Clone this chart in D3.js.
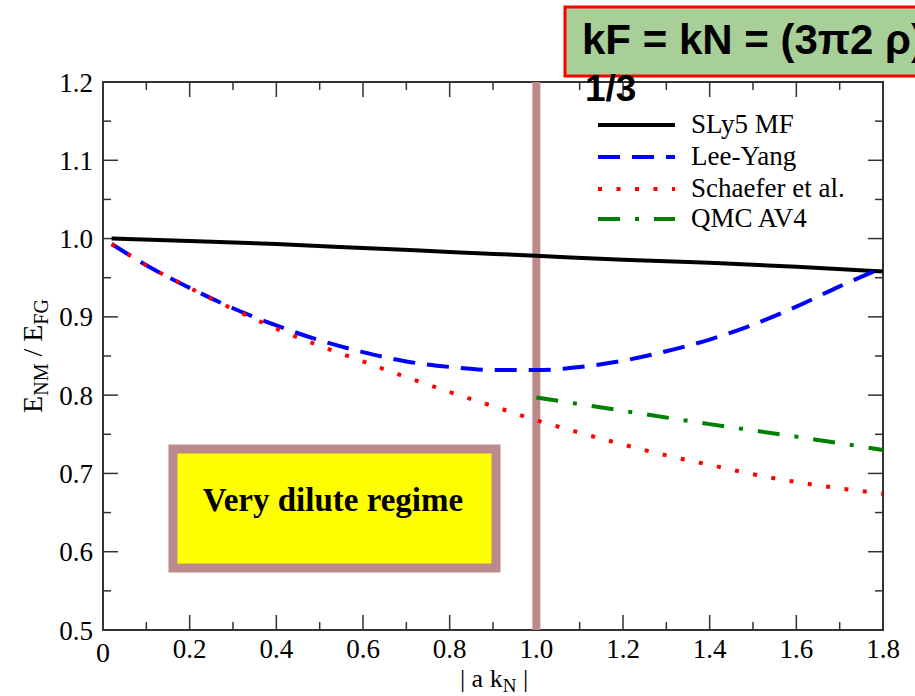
<!DOCTYPE html>
<html>
<head>
<meta charset="utf-8">
<script src="https://cdn.jsdelivr.net/npm/d3@7"></script>
<style>
  body { margin: 0; background: #fff; }
  svg { display: block; }
</style>
</head>
<body>
<div id="chart"></div>
<script>
// values
const slyX = [0.02, 0.2, 0.4, 0.6, 0.8, 1.0, 1.2, 1.4, 1.6, 1.8];
const slyY = [1.0, 0.997, 0.993, 0.988, 0.983, 0.978, 0.973, 0.969, 0.964, 0.958];

const lyX = [0.02, 0.1, 0.2, 0.3, 0.4, 0.5, 0.6, 0.7, 0.8, 0.9, 1.0, 1.1, 1.2, 1.3, 1.4, 1.5, 1.6, 1.7, 1.8];
const lyY = [0.993, 0.966, 0.937, 0.911, 0.889, 0.870, 0.855, 0.843, 0.836, 0.832, 0.832, 0.836, 0.844, 0.856, 0.871, 0.890, 0.913, 0.939, 0.963];

const schX = [0.02, 0.1, 0.2, 0.3, 0.4, 0.5, 0.6, 0.7, 0.8, 0.9, 1.0, 1.1, 1.2, 1.3, 1.4, 1.5, 1.6, 1.7, 1.8];
const schY = [0.993, 0.966, 0.937, 0.910, 0.885, 0.863, 0.843, 0.823, 0.804, 0.786, 0.768, 0.752, 0.737, 0.723, 0.711, 0.699, 0.689, 0.681, 0.674];

const qmcX = [1.0, 1.2, 1.4, 1.6, 1.8];
const qmcY = [0.797, 0.780, 0.763, 0.747, 0.730];

const xTicks = [0, 0.2, 0.4, 0.6, 0.8, 1.0, 1.2, 1.4, 1.6, 1.8];
const xTickLabels = ['0', '0.2', '0.4', '0.6', '0.8', '1.0', '1.2', '1.4', '1.6', '1.8'];
const yTicks = [0.5, 0.6, 0.7, 0.8, 0.9, 1.0, 1.1, 1.2];
const yTickLabels = ['0.5', '0.6', '0.7', '0.8', '0.9', '1.0', '1.1', '1.2'];

const seriesNames = ['SLy5 MF', 'Lee-Yang', 'Schaefer et al.', 'QMC AV4'];

const W = 915, H = 696;
const margin = { left: 103, right: 32, top: 82, bottom: 66 };

const svg = d3.select('#chart').append('svg')
    .attr('width', W)
    .attr('height', H);

const x = d3.scaleLinear().domain([0, 1.8]).range([margin.left, W - margin.right]);
const y = d3.scaleLinear().domain([0.5, 1.2]).range([H - margin.bottom, margin.top]);

const serif = '"Liberation Serif", "Times New Roman", serif';
const sans = '"Liberation Sans", Arial, sans-serif';
const axisColor = '#333';

// ticks on all four sides, pointing inward
const minorX = d3.range(0, 1.81, 0.1);
const minorY = d3.range(0.5, 1.201, 0.05);
const ticks = svg.append('g').attr('stroke', axisColor).attr('stroke-width', 1.5);
minorX.forEach((v, i) => {
    const len = i % 2 === 0 ? 15 : 8;
    ticks.append('line').attr('x1', x(v)).attr('x2', x(v)).attr('y1', y(0.5)).attr('y2', y(0.5) - len);
    ticks.append('line').attr('x1', x(v)).attr('x2', x(v)).attr('y1', y(1.2)).attr('y2', y(1.2) + len);
});
minorY.forEach((v, i) => {
    const len = i % 2 === 0 ? 15 : 8;
    ticks.append('line').attr('x1', x(0)).attr('x2', x(0) + len).attr('y1', y(v)).attr('y2', y(v));
    ticks.append('line').attr('x1', x(1.8)).attr('x2', x(1.8) - len).attr('y1', y(v)).attr('y2', y(v));
});

// frame
svg.append('rect')
    .attr('x', x(0)).attr('y', y(1.2))
    .attr('width', x(1.8) - x(0)).attr('height', y(0.5) - y(1.2))
    .attr('fill', 'none').attr('stroke', axisColor).attr('stroke-width', 2);

// tick labels
svg.append('g').selectAll('text')
    .data(xTicks)
    .join('text')
    .attr('x', d => x(d))
    .attr('y', (d, i) => i === 0 ? 662 : 658)
    .attr('text-anchor', 'middle')
    .attr('font-family', serif)
    .attr('font-size', (d, i) => i === 0 ? 28 : 27)
    .text((d, i) => xTickLabels[i]);

svg.append('g').selectAll('text')
    .data(yTicks)
    .join('text')
    .attr('x', x(0) - 10)
    .attr('y', d => y(d) + 9.5)
    .attr('text-anchor', 'end')
    .attr('font-family', serif)
    .attr('font-size', 27)
    .text((d, i) => yTickLabels[i]);

// axis titles
const xt = svg.append('text')
    .attr('x', 494).attr('y', 687)
    .attr('text-anchor', 'middle')
    .attr('font-family', serif)
    .attr('font-size', 26);
xt.append('tspan').text('| a k');
xt.append('tspan').attr('font-size', 19).attr('dy', 5).text('N');
xt.append('tspan').attr('dy', -5).text(' |');

const yt = svg.append('text')
    .attr('transform', 'translate(42,356) rotate(-90)')
    .attr('text-anchor', 'middle')
    .attr('font-family', serif)
    .attr('font-size', 28);
yt.append('tspan').text('E');
yt.append('tspan').attr('font-size', 20).attr('dy', 6).text('NM');
yt.append('tspan').attr('dy', -6).text(' / E');
yt.append('tspan').attr('font-size', 20).attr('dy', 6).text('FG');

// "very dilute" box
svg.append('rect')
    .attr('x', 173).attr('y', 449)
    .attr('width', 323).attr('height', 119)
    .attr('fill', '#ffff00')
    .attr('stroke', '#bc8a8a').attr('stroke-width', 9);
svg.append('text')
    .attr('x', 333).attr('y', 511)
    .attr('text-anchor', 'middle')
    .attr('font-family', serif)
    .attr('font-weight', 'bold')
    .attr('font-size', 33)
    .text('Very dilute regime');

// vertical marker at |a kN| = 1
svg.append('line')
    .attr('x1', x(1.0)).attr('x2', x(1.0))
    .attr('y1', y(1.2)).attr('y2', y(0.5))
    .attr('stroke', '#bc8a8a').attr('stroke-width', 8);

// curves
const line = d3.line().x(d => x(d[0])).y(d => y(d[1])).curve(d3.curveMonotoneX);
const zip = (a, b) => a.map((v, i) => [v, b[i]]);

const styles = [
    { color: '#000', dash: null },
    { color: '#0000ff', dash: '22,12' },
    { color: '#ff0000', dash: '4,14.5' },
    { color: '#008000', dash: '22,15,4,15' }
];
const curves = [zip(slyX, slyY), zip(lyX, lyY), zip(schX, schY), zip(qmcX, qmcY)];

curves.forEach((c, i) => {
    svg.append('path')
        .attr('d', line(c))
        .attr('fill', 'none')
        .attr('stroke', styles[i].color)
        .attr('stroke-width', 4)
        .attr('stroke-dasharray', styles[i].dash);
});

// legend
const legend = svg.append('g');
const legY = [125, 157, 189, 219];
seriesNames.forEach((name, i) => {
    legend.append('line')
        .attr('x1', 598).attr('x2', 675)
        .attr('y1', legY[i]).attr('y2', legY[i])
        .attr('stroke', styles[i].color)
        .attr('stroke-width', 4)
        .attr('stroke-dasharray', styles[i].dash);
    legend.append('text')
        .attr('x', 691).attr('y', legY[i] + 8)
        .attr('font-family', serif)
        .attr('font-size', 27)
        .text(name);
});

// header box
svg.append('rect')
    .attr('x', 565).attr('y', 7)
    .attr('width', 360).attr('height', 69)
    .attr('fill', '#a9cf98')
    .attr('stroke', '#ff0000').attr('stroke-width', 3);
svg.append('text')
    .attr('x', 582).attr('y', 54)
    .attr('font-family', sans)
    .attr('font-weight', 'bold')
    .attr('font-size', 42)
    .text('kF = kN = (3π2 ρ)');
svg.append('text')
    .attr('x', 585).attr('y', 101)
    .attr('font-family', sans)
    .attr('font-weight', 'bold')
    .attr('font-size', 37)
    .text('1/3');
</script>
</body>
</html>
